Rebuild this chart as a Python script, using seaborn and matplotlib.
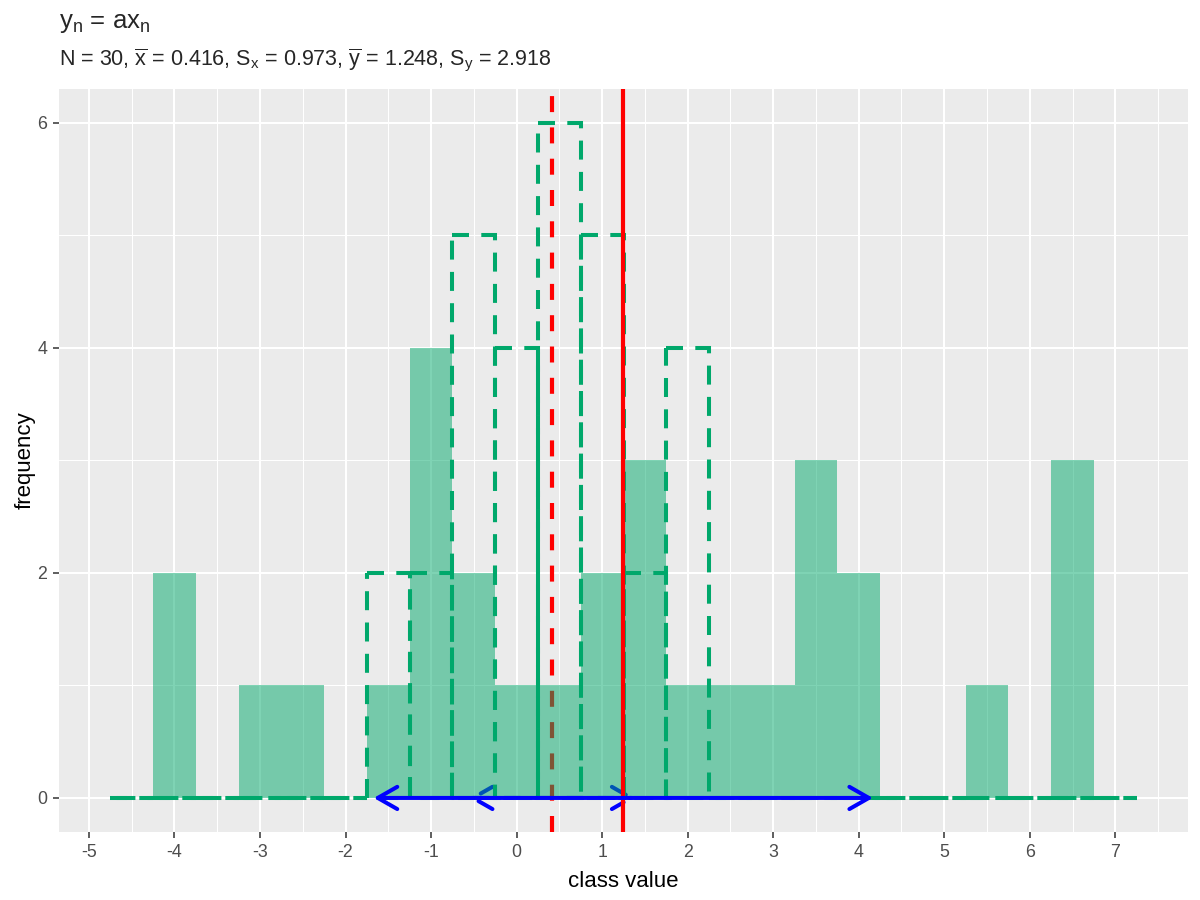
import numpy as np
import pandas as pd
import matplotlib
matplotlib.use("Agg")
import matplotlib.pyplot as plt
import seaborn as sns

# bin centres (binwidth 0.5) and counts
bin_centres = [-4.5, -4.0, -3.5, -3.0, -2.5, -2.0, -1.5, -1.0, -0.5, 0.0, 0.5, 1.0,
               1.5, 2.0, 2.5, 3.0, 3.5, 4.0, 4.5, 5.0, 5.5, 6.0, 6.5, 7.0]
x_counts = [0, 0, 0, 0, 0, 0, 2, 2, 5, 4, 6, 5, 2, 4, 0, 0, 0, 0, 0, 0, 0, 0, 0, 0]
y_counts = [0, 2, 0, 1, 1, 0, 1, 4, 2, 1, 1, 2, 3, 1, 1, 1, 3, 2, 0, 0, 1, 0, 3, 0]

n_obs = 30
x_mean, x_sd = 0.416, 0.973
y_mean, y_sd = 1.248, 2.918

bin_width = 0.5
bin_range = (-4.75, 7.25)

GREEN = "#00A86B"

df = pd.DataFrame({"centre": bin_centres, "x": x_counts, "y": y_counts})

sns.set_theme(style="darkgrid")
plt.rcParams["font.family"] = ["Liberation Sans", "DejaVu Sans"]
plt.rcParams["mathtext.fontset"] = "custom"
plt.rcParams["mathtext.rm"] = "Liberation Sans"
plt.rcParams["mathtext.it"] = "Liberation Sans:italic"
plt.rcParams["mathtext.bf"] = "Liberation Sans:bold"
plt.rcParams["lines.scale_dashes"] = False

fig = plt.figure(figsize=(12, 9), dpi=100)
ax = fig.add_axes([59 / 1200, 1 - 831.7 / 900, (1188 - 59) / 1200, (831.7 - 89) / 900])
ax.set_facecolor("#EBEBEB")

to_pt = 72 / fig.dpi
red_dash = (0, (16.0 * to_pt, 15.3 * to_pt))

# x mean line and x spread arrow sit under the filled histogram
ax.axvline(x_mean, color="red", lw=3.0, ls=red_dash, zorder=1)
ax.annotate("", xy=(x_mean + x_sd, 0), xytext=(x_mean - x_sd, 0),
            arrowprops=dict(arrowstyle="<->,head_length=0.7,head_width=0.4",
                            color="blue", lw=2.9, ls=red_dash,
                            shrinkA=0, shrinkB=0, mutation_scale=20),
            zorder=1.5, annotation_clip=False)

# filled histogram of y
sns.histplot(data=df, x="centre", weights="y", binwidth=bin_width, binrange=bin_range,
             color=GREEN, alpha=0.5, linewidth=0, ax=ax, zorder=2)

# dashed outline histogram of x
n_before = len(ax.patches)
sns.histplot(data=df, x="centre", weights="x", binwidth=bin_width, binrange=bin_range,
             fill=False, color=GREEN, linewidth=2.9, ax=ax, zorder=3)

# draw every outline from its top-left corner (like R does) so the dashes line up
dash_on, dash_off = 19.0, 12.3  # pixels
for bar in ax.patches[n_before:]:
    top = bar.get_y() + bar.get_height()
    bar.set_height(-bar.get_height())
    bar.set_y(top)
    bar.set_linestyle((2.0 * to_pt, (dash_on * to_pt, dash_off * to_pt)))

# y mean line and y spread arrow on top
ax.axvline(y_mean, color="red", lw=3.0, zorder=4)
ax.annotate("", xy=(y_mean + y_sd, 0), xytext=(y_mean - y_sd, 0),
            arrowprops=dict(arrowstyle="<->,head_length=0.7,head_width=0.4",
                            color="blue", lw=2.9,
                            shrinkA=0, shrinkB=0, mutation_scale=20),
            zorder=5, annotation_clip=False)

ax.set_xlim(-5.35, 7.85)
ax.set_ylim(-0.3, 6.3)
ax.set_xticks(np.arange(-5, 8, 1))
ax.set_xticks(np.arange(-4.5, 8, 1), minor=True)
ax.set_yticks([0, 2, 4, 6])
ax.set_yticks([1, 3, 5], minor=True)
ax.grid(which="major", color="white", lw=1.5)
ax.grid(which="minor", color="white", lw=0.75)
ax.set_axisbelow(True)
for s in ax.spines.values():
    s.set_visible(False)
ax.tick_params(which="major", bottom=True, left=True, length=4, width=1.1,
               color="#333333", labelsize=12.8, labelcolor="#4D4D4D", pad=4.5)
ax.tick_params(which="minor", bottom=False, left=False, length=0)
ax.set_xticklabels([str(v) for v in range(-5, 8)])

ax.set_xlabel("class value", fontsize=16, color="black", labelpad=7.5)
ax.set_ylabel("frequency", fontsize=16, color="black", labelpad=1)

fig.text(59 / 1200, 1 - 28.3 / 900, r"y$_\mathrm{n}$ = ax$_\mathrm{n}$", fontsize=18.5,
         ha="left", va="baseline")
fig.text(59 / 1200, 1 - 65 / 900,
         rf"N = {n_obs}, $\overline{{\mathrm{{x}}}}$ = {x_mean}, S$_\mathrm{{x}}$ = {x_sd}, "
         rf"$\overline{{\mathrm{{y}}}}$ = {y_mean}, S$_\mathrm{{y}}$ = {y_sd}",
         fontsize=15.5, ha="left", va="baseline")

fig.savefig("out.png", dpi=100)
